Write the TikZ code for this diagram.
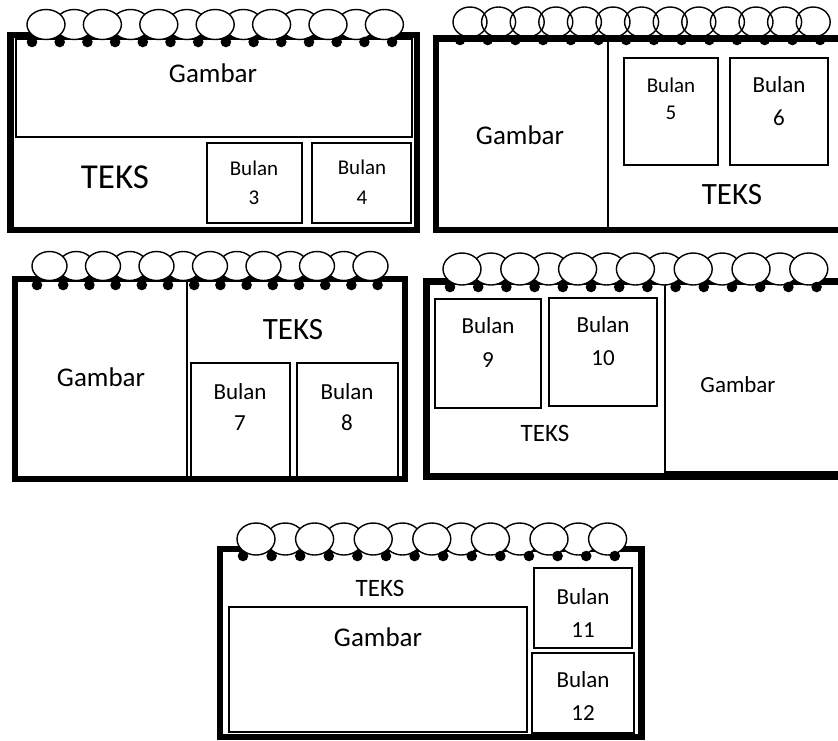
\documentclass[tikz,border=0pt]{standalone}
\usepackage{fontspec}
\setmainfont{Carlito}
\newcommand{\calrings}[5]{%
  \foreach \i in {1,3,...,11} {\draw[ringline,fill=white] ({#1+\i*#2},#3) ellipse [x radius=#4pt, y radius=#5pt];}
  \foreach \i in {0,2,...,12} {\draw[ringline,fill=white] ({#1+\i*#2},#3) ellipse [x radius=#4pt, y radius=#5pt];}
}
\newcommand{\calloops}[5]{%
  \foreach \i in {0,...,12} {\draw[ringline] ({#1+\i*#2},#3) ellipse [x radius=#4pt, y radius=#5pt];}
}
\newcommand{\caldots}[3]{%
  \foreach \i in {0,...,13} {\fill ({#1+\i*#2},#3) circle [radius=5.3pt];}
}
\tikzset{
  frame/.style={line width=6.5pt, fill=white},
  ringline/.style={line width=1.4pt},
  box/.style={line width=1.8pt},
  divline/.style={line width=1.8pt},
  lbl/.style={inner sep=0pt, font=\fontsize{#1}{#1}\selectfont},
}
\begin{document}
\begin{tikzpicture}[x=1pt,y=-1pt]
\useasboundingbox (0,0) rectangle (838,740);
\fill[white] (0,0) rectangle (838,740);
\clip (0,0) rectangle (838,740);

% ---------- Calendar 1 ----------
\draw[frame] (10.5,35) rectangle (417,230);
\draw[box] (16,39) rectangle (412,137);
\draw[box] (207,143) rectangle (302,223);
\draw[box] (312,143) rectangle (411,223);
\calrings{46}{28.2}{24.5}{19}{15}
\caldots{32}{27.7}{42}
\node[lbl=27] (g1) at (213,73) {Gambar};
\node[lbl=35] (t1) at (115,177) {TEKS};
\node[lbl=21] (b3a) at (254,168) {Bulan};
\node[lbl=21] (b3n) at (254,198) {3};
\node[lbl=21] (b4a) at (362,167) {Bulan};
\node[lbl=21] (b4n) at (362,198) {4};

% ---------- Calendar 2 ----------
\calloops{470}{28.6}{22}{17}{15}
\draw[frame] (436,38.5) rectangle (860,230);
\draw[divline] (608,38.5) -- (608,230);
\draw[box] (624,58) rectangle (718,165);
\draw[box] (730,58) rectangle (828,165);
\caldots{460}{27.7}{40}
\node[lbl=27] (g2) at (520,135) {Gambar};
\node[lbl=31] (t2) at (732,195) {TEKS};
\node[lbl=21] (b5a) at (671,85) {Bulan};
\node[lbl=21] (b5n) at (671,113) {5};
\node[lbl=23] (b6a) at (779,85) {Bulan};
\node[lbl=23] (b6n) at (779,118) {6};

% ---------- Calendar 3 ----------
\draw[frame] (15,279) rectangle (405,479);
\draw[divline] (187,279) -- (187,479);
\draw[box] (191,363) rectangle (290,477);
\draw[box] (297,363) rectangle (398,477);
\calrings{49.5}{26.75}{266}{17.5}{14.5}
\caldots{37}{26.2}{285}
\node[lbl=27] (g3) at (101,377) {Gambar};
\node[lbl=31] (t3) at (293,330) {TEKS};
\node[lbl=23] (b7a) at (240,392) {Bulan};
\node[lbl=23] (b7n) at (240,423) {7};
\node[lbl=23] (b8a) at (347,392) {Bulan};
\node[lbl=23] (b8n) at (347,423) {8};

% ---------- Calendar 4 ----------
\draw[frame] (426.5,281.5) rectangle (860,476.5);
\draw[box] (435,299) rectangle (541,408);
\draw[box] (549,298) rectangle (657,406);
\draw[divline] (665,281.5) -- (665,472) -- (860,472);
\calrings{462}{28.9}{269}{19}{16}
\caldots{450}{28.2}{287}
\node[lbl=23] (g4) at (738,385) {Gambar};
\node[lbl=25] (t4) at (545,433) {TEKS};
\node[lbl=23] (b9a) at (488,326) {Bulan};
\node[lbl=23] (b9n) at (488,360) {9};
\node[lbl=23] (b10a) at (603,325) {Bulan};
\node[lbl=23] (b10n) at (603,358) {10};

% ---------- Calendar 5 ----------
\draw[frame] (220,549) rectangle (641.5,737);
\draw[box] (229,607) rectangle (527,732);
\draw[box] (534,568) rectangle (632,648);
\draw[box] (532,653) rectangle (634,733);
\calrings{256}{29.3}{539}{19}{16}
\caldots{243}{28.6}{556}
\node[lbl=27] (g5) at (378,637) {Gambar};
\node[lbl=25] (t5) at (380,588) {TEKS};
\node[lbl=23] (b11a) at (583,597) {Bulan};
\node[lbl=23] (b11n) at (583,630) {11};
\node[lbl=23] (b12a) at (583,680) {Bulan};
\node[lbl=23] (b12n) at (583,713) {12};
\end{tikzpicture}
\end{document}
